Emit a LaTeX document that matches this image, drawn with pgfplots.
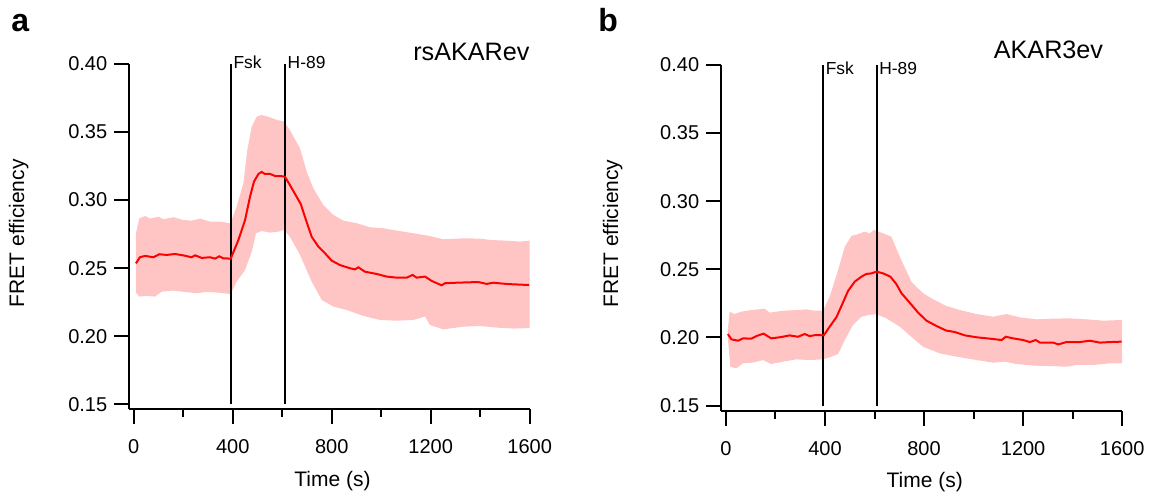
\documentclass[border=0pt]{standalone}
\usepackage{pgfplots}
\pgfplotsset{compat=1.18}
\usepgfplotslibrary{fillbetween}
\usepackage{fontspec}
\setmainfont{Liberation Sans}
\definecolor{band}{RGB}{255,197,197}
\definecolor{meanred}{RGB}{255,0,0}
\pgfplotsset{
  fretaxis/.style={
    scale only axis,
    axis lines*=left,
    axis line style={line width=1pt},
    tick align=outside,
    major tick length=7.5pt,
    minor tick length=4pt,
    tick style={black, line width=1pt},
    xtick={0,400,800,1200,1600},
    minor x tick num=1,
    ytick={0.15,0.2,0.25,0.3,0.35,0.4},
    xmax=1600, ymax=0.40,
    clip=false,
    /pgf/number format/assume math mode=true,
    yticklabel style={/pgf/number format/fixed, /pgf/number format/precision=2, /pgf/number format/fixed zerofill, font=\fontsize{10}{12}\selectfont},
    xticklabel style={/pgf/number format/1000 sep={}, font=\fontsize{10}{12}\selectfont, yshift=-4pt},
    xlabel={Time (s)}, ylabel={FRET efficiency},
    label style={font=\fontsize{10.5}{12}\selectfont},
  }
}
\begin{document}
\begin{tikzpicture}
\node[anchor=base west, inner sep=0, font=\fontsize{16}{16}\selectfont\bfseries] at (5.5pt,232.5pt) {a};
\node[anchor=base west, inner sep=0, font=\fontsize{16}{16}\selectfont\bfseries] at (299pt,232.6pt) {b};

\begin{axis}[fretaxis, at={(64.65pt,44pt)}, anchor=south west,
  width=200.2pt, height=172.5pt, xmin=-17.8, ymin=0.1465,
  xlabel style={at={(axis description cs:0.5075,0)}, anchor=base, yshift=-38.85pt},
  ylabel style={at={(axis description cs:-0.276,0.509)}, anchor=center}]
\addplot[name path=upA, draw=none, forget plot] table {
9 0.2756
23 0.2866
46 0.2883
66 0.2864
100 0.2878
120 0.2859
160 0.2874
200 0.2854
234 0.2849
268 0.2864
308 0.2842
349 0.2842
389 0.2830
396 0.2854
416 0.2952
443 0.3123
459 0.3368
477 0.3540
497 0.3613
517 0.3625
551 0.3608
578 0.3589
607 0.3577
631 0.3515
672 0.3380
699 0.3209
726 0.3086
766 0.2964
807 0.2891
847 0.2849
901 0.2830
955 0.2800
1009 0.2793
1062 0.2776
1130 0.2756
1197 0.2736
1251 0.2712
1332 0.2719
1399 0.2717
1440 0.2707
1507 0.2702
1561 0.2695
1600 0.2702
};
\addplot[name path=loA, draw=none, forget plot] table {
9 0.2320
23 0.2291
52 0.2296
86 0.2291
113 0.2327
160 0.2335
207 0.2325
254 0.2315
295 0.2325
342 0.2320
389 0.2310
396 0.2327
416 0.2401
450 0.2487
477 0.2621
494 0.2756
517 0.2773
551 0.2761
584 0.2768
607 0.2781
631 0.2731
672 0.2597
719 0.2401
760 0.2266
807 0.2217
860 0.2193
928 0.2149
995 0.2119
1062 0.2114
1130 0.2119
1177 0.2144
1197 0.2082
1251 0.2050
1332 0.2070
1399 0.2075
1466 0.2063
1534 0.2056
1600 0.2060
};
\addplot[band, draw=none, forget plot] fill between[of=upA and loA];
\addplot[black, line width=1pt, forget plot] coordinates {(392,0.15) (392,0.40)};
\addplot[black, line width=1pt, forget plot] coordinates {(611,0.15) (611,0.40)};
\addplot[meanred, line width=1pt, forget plot] table {
9 0.2535
25 0.2580
46 0.2590
79 0.2580
104 0.2602
133 0.2597
167 0.2604
200 0.2594
234 0.2580
248 0.2594
275 0.2575
308 0.2580
328 0.2570
346 0.2587
362 0.2572
392 0.2570
423 0.2707
450 0.2854
470 0.3025
486 0.3136
504 0.3192
517 0.3207
530 0.3192
551 0.3192
571 0.3177
591 0.3177
611 0.3172
631 0.3111
654 0.3038
675 0.2971
696 0.2854
719 0.2731
746 0.2658
773 0.2609
800 0.2555
833 0.2523
874 0.2499
894 0.2491
908 0.2506
934 0.2474
982 0.2457
1022 0.2438
1062 0.2430
1103 0.2430
1127 0.2450
1143 0.2430
1177 0.2438
1204 0.2406
1244 0.2374
1258 0.2389
1305 0.2393
1359 0.2396
1392 0.2398
1426 0.2384
1453 0.2393
1493 0.2386
1534 0.2381
1598 0.2376
};
\node[anchor=base west, inner sep=0, xshift=1.2pt, font=\fontsize{8.7}{10}\selectfont] at (axis cs:392,0.3966) {Fsk};
\node[anchor=base west, inner sep=0, xshift=1.2pt, font=\fontsize{8.7}{10}\selectfont] at (axis cs:611,0.3966) {H-89};
\node[anchor=base east, inner sep=0, font=\fontsize{12.6}{14}\selectfont] at (axis cs:1601,0.4029) {rsAKARev};
\end{axis}

\begin{axis}[fretaxis, at={(360.6pt,43pt)}, anchor=south west,
  width=200.5pt, height=173pt, xmin=-19, ymin=0.146,
  xlabel style={at={(axis description cs:0.5075,0)}, anchor=base, yshift=-38.35pt},
  ylabel style={at={(axis description cs:-0.2706,0.513)}, anchor=center}]
\addplot[name path=upB, draw=none, forget plot] table {
8 0.2060
15 0.2189
35 0.2172
62 0.2189
103 0.2201
156 0.2211
177 0.2182
230 0.2196
284 0.2201
325 0.2206
358 0.2196
392 0.2196
419 0.2299
453 0.2495
480 0.2666
507 0.2745
534 0.2759
560 0.2776
581 0.2764
597 0.2789
635 0.2764
668 0.2740
702 0.2593
749 0.2409
796 0.2324
837 0.2280
890 0.2231
944 0.2201
1012 0.2172
1079 0.2152
1133 0.2172
1187 0.2147
1254 0.2133
1321 0.2138
1389 0.2140
1456 0.2133
1523 0.2123
1600 0.2128
};
\addplot[name path=loB, draw=none, forget plot] table {
8 0.1990
18 0.1785
42 0.1773
69 0.1810
109 0.1815
150 0.1834
183 0.1805
230 0.1822
284 0.1839
338 0.1834
392 0.1839
426 0.1859
453 0.1878
480 0.1981
513 0.2091
547 0.2152
581 0.2166
608 0.2171
648 0.2140
702 0.2079
756 0.1993
796 0.1932
863 0.1883
931 0.1859
1012 0.1834
1079 0.1815
1126 0.1822
1173 0.1805
1241 0.1793
1308 0.1790
1375 0.1785
1416 0.1798
1483 0.1798
1550 0.1810
1600 0.1810
};
\addplot[band, draw=none, forget plot] fill between[of=upB and loB];
\addplot[black, line width=1pt, forget plot] coordinates {(392,0.15) (392,0.40)};
\addplot[black, line width=1pt, forget plot] coordinates {(608,0.15) (608,0.40)};
\addplot[meanred, line width=1pt, forget plot] table {
8 0.2025
22 0.1986
49 0.1976
69 0.1993
103 0.1991
123 0.2010
152 0.2028
183 0.1993
224 0.2003
257 0.2015
291 0.2005
318 0.2025
338 0.2010
365 0.2018
395 0.2015
419 0.2079
446 0.2148
470 0.2245
493 0.2341
520 0.2409
547 0.2446
567 0.2466
587 0.2470
608 0.2483
635 0.2470
664 0.2446
688 0.2392
709 0.2324
742 0.2255
776 0.2182
810 0.2123
850 0.2084
890 0.2050
924 0.2040
965 0.2015
1012 0.2001
1066 0.1991
1113 0.1981
1130 0.2005
1160 0.1993
1200 0.1981
1227 0.1966
1251 0.1981
1268 0.1962
1321 0.1962
1342 0.1949
1375 0.1966
1429 0.1966
1469 0.1976
1510 0.1962
1550 0.1966
1598 0.1969
};
\node[anchor=base west, inner sep=0, xshift=1.2pt, font=\fontsize{8.7}{10}\selectfont] at (axis cs:392,0.3932) {Fsk};
\node[anchor=base west, inner sep=0, xshift=1.2pt, font=\fontsize{8.7}{10}\selectfont] at (axis cs:608,0.3932) {H-89};
\node[anchor=base east, inner sep=0, font=\fontsize{12.6}{14}\selectfont] at (axis cs:1524.5,0.4044) {AKAR3ev};
\end{axis}
\pgfresetboundingbox
\path[use as bounding box] (0,0) rectangle (576.5pt,248.5pt);
\end{tikzpicture}
\end{document}
